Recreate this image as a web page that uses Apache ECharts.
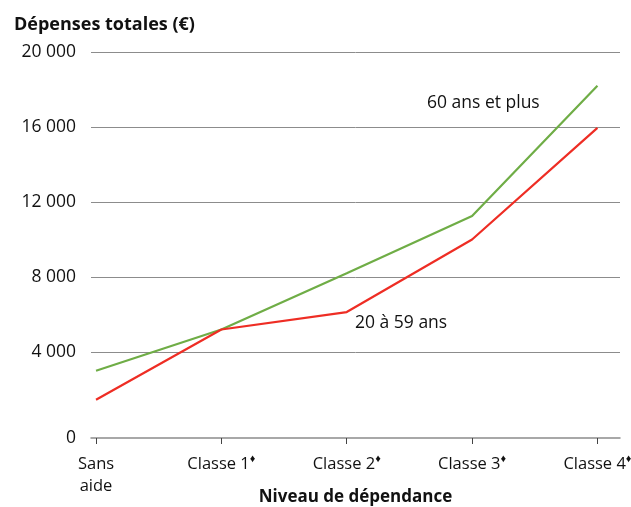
<!DOCTYPE html>
<html>
<head>
<meta charset="utf-8">
<script src="https://cdn.jsdelivr.net/npm/echarts@6/dist/echarts.min.js"></script>
<style>
  html, body { margin: 0; padding: 0; background: #fff; }
  #chart { width: 631px; height: 507px; }
</style>
</head>
<body>
<div id="chart"></div>
<script>
// categories and values
var categories = ['Sans\naide', 'Classe 1', 'Classe 2', 'Classe 3', 'Classe 4'];
var diamonds = [false, true, true, true, true];
var plus60 = [3000, 5200, 8200, 11250, 18200];
var age20to59 = [1450, 5200, 6130, 10000, 15950];
var yTickValues = [0, 4000, 8000, 12000, 16000, 20000];
var yTickLabels = ['0', '4 000', '8 000', '12 000', '16 000', '20 000'];

var FONT = 'Open Sans';
var myChart = echarts.init(document.getElementById('chart'));

var option = {
  animation: false,
  textStyle: { fontFamily: FONT },
  grid: { left: 91, right: 11, top: 52, bottom: 80, containLabel: false, outerBoundsMode: 'none' },
  title: {
    text: 'Dépenses totales (€)',
    left: 9, top: 11,
    textStyle: { fontFamily: FONT, fontSize: 18, fontWeight: 'bold', color: '#111' }
  },
  xAxis: {
    type: 'value',
    min: -0.04, max: 4.18,
    offset: 11,
    splitLine: { show: false },
    axisLine: { show: true, onZero: false, lineStyle: { color: '#8c8c8c', width: 1.5 } },
    axisTick: { show: true, customValues: [0, 1, 2, 3, 4], length: 6, lineStyle: { color: '#444' } },
    axisLabel: {
      customValues: [0, 1, 2, 3, 4],
      margin: 15,
      fontFamily: FONT, fontSize: 16.5, color: '#111', lineHeight: 22,
      formatter: function (v) {
        var i = Math.round(v);
        return diamonds[i] ? categories[i] + '{s|♦}' : categories[i];
      },
      rich: { s: { fontSize: 11, color: '#111', padding: [0, 0, 10, 0] } }
    },
    name: 'Niveau de dépendance',
    nameLocation: 'middle',
    nameMoveOverlap: false,
    nameGap: 51,
    nameTextStyle: { fontFamily: FONT, fontSize: 17, fontWeight: 'bold', color: '#111' }
  },
  yAxis: {
    type: 'value',
    min: 0, max: 20000, interval: 4000,
    axisLine: { show: false },
    axisTick: { show: false },
    splitLine: { show: true, showMinLine: false, lineStyle: { color: '#8c8c8c', width: 1 } },
    axisLabel: {
      margin: 15,
      fontFamily: FONT, fontSize: 17.5, color: '#111', lineHeight: 22,
      formatter: function (v) {
        var i = yTickValues.indexOf(v);
        // the zero label sits on the shifted axis line, one half line lower
        return v === 0 ? '\n' + yTickLabels[i] : yTickLabels[i];
      }
    }
  },
  series: [{
    name: '60 ans et plus',
    type: 'line',
    symbol: 'none',
    lineStyle: { color: '#6fad46', width: 2.2 },
    data: categories.map(function (c, i) { return [i, plus60[i]]; })
  }, {
    name: '20 à 59 ans',
    type: 'line',
    symbol: 'none',
    lineStyle: { color: '#ee2d24', width: 2.2 },
    data: categories.map(function (c, i) { return [i, age20to59[i]]; })
  }],
  graphic: [{
    type: 'text', left: 427, top: 94,
    style: { text: '60 ans et plus', fontFamily: FONT, fontSize: 17.5, fill: '#111' }
  }, {
    type: 'text', left: 355, top: 314,
    style: { text: '20 à 59 ans', fontFamily: FONT, fontSize: 17.5, fill: '#111' }
  }]
};

myChart.setOption(option);
</script>
</body>
</html>
